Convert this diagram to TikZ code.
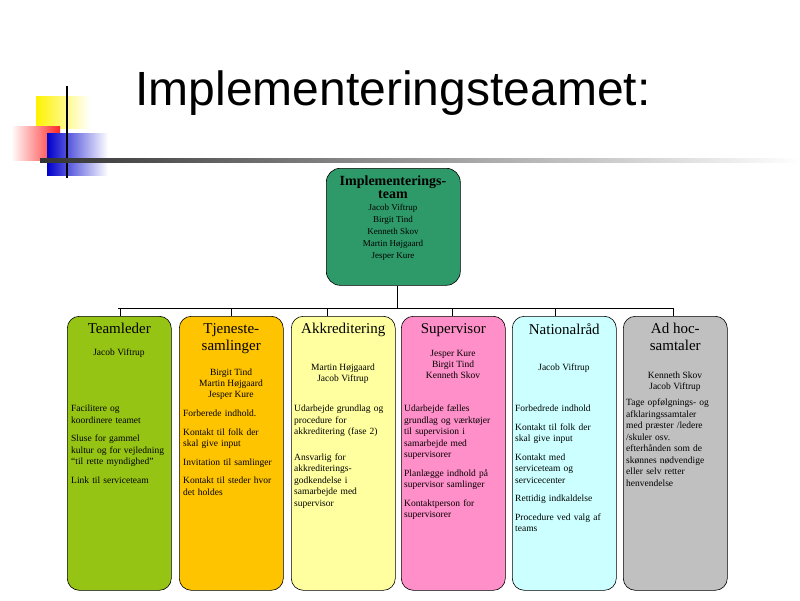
\documentclass[tikz,border=0pt]{standalone}
\usepackage{fontspec}
\setmainfont{Liberation Serif}
\newfontfamily\titlefont{Liberation Sans}
\newcommand{\bigb}{\fontsize{14}{16}\selectfont\bfseries}
\newcommand{\smn}{\fontsize{9}{10.5}\selectfont\mdseries}
\begin{document}
\begin{tikzpicture}[x=1pt,y=-1pt,
  col/.style={draw=black,line width=0.6pt,rounded corners=12pt,minimum width=104pt,minimum height=274pt,anchor=north west},
  hd/.style={anchor=north,align=center,yshift=-4pt,font=\fontsize{15}{17}\selectfont},
  nm/.style={anchor=north,align=center,font=\fontsize{9.5}{11}\selectfont},
  bd/.style={anchor=north west,align=left,text width=98pt,inner sep=0pt,font=\fontsize{9.5}{11.5}\selectfont},
  wire/.style={line width=1pt}]
\useasboundingbox (0,0) rectangle (800,600);
\fill[white] (0,0) rectangle (800,600);
% decoration
\shade[left color=yellow!90!orange,right color=white] (36,96) rectangle (90,128);
\shade[left color=white,right color=red!85] (11,126) rectangle (60,160);
\shade[left color=blue!80!black,right color=white] (47,133) rectangle (108,175);
\draw[line width=2.5pt] (67,86) -- (67,178);
\shade[left color=black!80,right color=white] (40,158.5) rectangle (800,162);
\node[anchor=base west,font=\titlefont\fontsize{48}{48}\selectfont] (title) at (132,105) {Implementeringsteamet:};
% top
\node[draw=black,line width=0.6pt,rounded corners=14pt,fill={rgb,255:red,46;green,154;blue,106},minimum width=134pt,minimum height=117pt,anchor=north west] (top) at (326,168) {};
\node[anchor=north,align=center] (toptxt) at (393,172) {\bigb Implementerings-\\[1pt]\bigb team\\\smn Jacob Viftrup\\\smn Birgit Tind\\\smn Kenneth Skov\\\smn Martin Højgaard\\\smn Jesper Kure};
% columns
\node[col,fill={rgb,255:red,150;green,196;blue,20}] (c1) at (67,316) {};
\node[col,fill={rgb,255:red,255;green,196;blue,0}] (c2) at (179,316) {};
\node[col,fill={rgb,255:red,255;green,255;blue,160}] (c3) at (291,316) {};
\node[col,fill={rgb,255:red,255;green,143;blue,200}] (c4) at (401,316) {};
\node[col,fill={rgb,255:red,204;green,255;blue,255}] (c5) at (512,316) {};
\node[col,fill={rgb,255:red,192;green,192;blue,192}] (c6) at (623,316) {};
% connectors
\coordinate (bus) at (397,308);
\coordinate (bl) at (118,308);
\coordinate (br) at (673,308);
\draw[wire] (top.south -| bus) -- (bus);
\draw[wire] (bl) -- (br);
\foreach \x/\c in {120/c1,231/c2,327/c3,452/c4,555/c5,673/c6}
  \draw[wire] (\x,308) -- (\x,316);
% texts
\node[hd] (h1) at (c1.north) {Teamleder};
\node[nm] (n1) at (119,345) {Jacob Viftrup};
\node[bd] (b1) at (71,405) {Facilitere og\\koordinere teamet\\[7pt]Sluse for gammel\\kultur og for vejledning\\``til rette myndighed''\\[7pt]Link til serviceteam};
\node[hd] (h2) at (c2.north) {Tjeneste-\\samlinger};
\node[nm] (n2) at (231,365) {Birgit Tind\\Martin Højgaard\\Jesper Kure};
\node[bd] (b2) at (183,410) {Forberede indhold.\\[7pt]Kontakt til folk der\\skal give input\\[7pt]Invitation til samlinger\\[7pt]Kontakt til steder hvor\\det holdes};
\node[hd] (h3) at (c3.north) {Akkreditering};
\node[nm] (n3) at (343,360) {Martin Højgaard\\Jacob Viftrup};
\node[bd] (b3) at (294,405) {Udarbejde grundlag og\\procedure for\\akkreditering (fase 2)\\[14pt]Ansvarlig for\\akkrediterings-\\godkendelse i\\samarbejde med\\supervisor};
\node[hd] (h4) at (c4.north) {Supervisor};
\node[nm] (n4) at (453,347) {Jesper Kure\\Birgit Tind\\Kenneth Skov};
\node[bd] (b4) at (404,405) {Udarbejde fælles\\grundlag og værktøjer\\til supervision i\\samarbejde med\\supervisorer\\[7pt]Planlægge indhold på\\supervisor samlinger\\[7pt]Kontaktperson for\\supervisorer};
\node[hd] (h5) at (c5.north) {Nationalråd};
\node[nm] (n5) at (564,360) {Jacob Viftrup};
\node[bd] (b5) at (515,405) {Forbedrede indhold\\[7pt]Kontakt til folk der\\skal give input\\[7pt]Kontakt med\\serviceteam og\\servicecenter\\[7pt]Rettidig indkaldelse\\[7pt]Procedure ved valg af\\teams};
\node[hd] (h6) at (c6.north) {Ad hoc-\\samtaler};
\node[nm] (n6) at (675,368) {Kenneth Skov\\Jacob Viftrup};
\node[bd] (b6) at (626,399) {Tage opfølgnings- og\\afklaringssamtaler\\med præster /ledere\\/skuler osv.\\efterhånden som de\\skønnes nødvendige\\eller selv retter\\henvendelse};
\end{tikzpicture}
\end{document}
